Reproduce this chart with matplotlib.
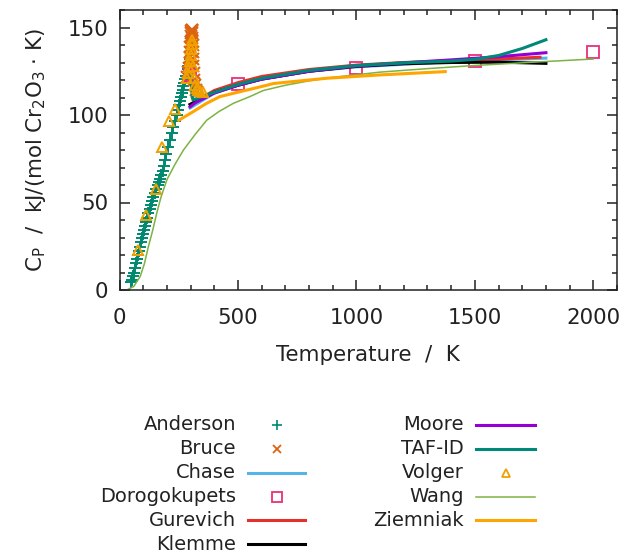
import numpy as np
import matplotlib
matplotlib.use('Agg')
import matplotlib.pyplot as plt
from matplotlib.lines import Line2D
from matplotlib.ticker import MultipleLocator

plt.rcParams['font.family'] = 'DejaVu Sans'
plt.rcParams['mathtext.default'] = 'regular'

# ---- measured data (T in K, Cp in J/(mol K)) ----
anderson_T = [48, 51, 55, 60, 64, 68, 73, 78, 82, 87, 91, 95, 99, 103, 108, 112, 117, 122,
              127, 132, 137, 143, 149, 155, 161, 166, 171, 176, 182, 187, 192, 198, 205, 212,
              220, 227, 234, 241, 248, 252, 256, 260, 263, 267, 270, 274, 277, 281, 284,
              288, 291, 294, 298]
anderson_cp = [4.5, 5.7, 7.8, 10.0, 12.6, 15.2, 17.6, 20.0, 22.4, 24.8, 27.2, 29.5, 31.9,
               34.3, 36.7, 39.0, 41.4, 43.8, 46.2, 48.5, 50.9, 53.3, 55.6, 58.0, 60.0, 61.8,
               63.5, 65.5, 68.0, 71.0, 74.3, 78.0, 82.0, 85.8, 89.5, 93.0, 96.5, 99.8, 103.0,
               105.5, 108.0, 110.2, 112.4, 114.5, 116.5, 118.5, 120.5, 122.5, 124.5, 126.3,
               128.0, 130.0, 132.0]

bruce_T = [285, 290, 294, 296, 297, 298, 299, 300, 301, 302, 303, 304, 305, 306, 307, 308,
           309, 310, 311, 312, 313, 315, 318, 322, 327]
bruce_cp = [122.0, 124.5, 127.0, 130.0, 133.0, 136.0, 139.0, 142.0, 145.0, 147.0, 148.0,
            148.5, 148.5, 148.0, 147.0, 144.0, 140.0, 136.0, 132.0, 128.0, 124.0, 120.0,
            117.0, 114.5, 113.0]

chase_T = [298, 400, 500, 600, 800, 1000, 1200, 1400, 1600, 1800]
chase_cp = [104.0, 112.5, 117.0, 120.5, 125.0, 127.5, 129.0, 130.5, 131.5, 132.5]

dorogokupets_T = [298, 500, 1000, 1500, 2000]
dorogokupets_cp = [123.0, 118.0, 126.7, 131.0, 136.2]

gurevich_T = [298, 400, 500, 600, 800, 1000, 1200, 1400, 1600, 1775]
gurevich_cp = [106.0, 114.0, 118.5, 122.0, 126.0, 128.5, 130.0, 131.0, 132.0, 133.0]

klemme_T = [298, 400, 500, 600, 800, 1000, 1200, 1400, 1600, 1800]
klemme_cp = [106.0, 113.0, 117.0, 120.5, 125.0, 127.8, 129.3, 130.0, 130.2, 129.5]

moore_T = [298, 320, 400, 500, 600, 800, 1000, 1200, 1400, 1600, 1800]
moore_cp = [104.7, 107.0, 112.5, 117.0, 120.5, 125.0, 128.0, 129.8, 131.5, 133.3, 135.6]

tafid_T = [300, 306, 310, 350, 400, 500, 600, 800, 1000, 1200, 1400, 1500, 1600, 1700, 1800]
tafid_cp = [122.0, 112.0, 108.6, 110.5, 113.0, 117.5, 121.0, 125.5, 128.3, 129.8, 130.8,
            131.8, 134.0, 138.0, 143.0]

volger_T = [79, 112, 154, 178, 210, 234, 286, 291, 295, 298, 300, 302, 304, 306, 309, 313,
            319, 326, 333, 340, 352]
volger_cp = [22.9, 42.9, 58.0, 81.5, 96.6, 103.2, 121.0, 124.0, 127.5, 131.0, 134.5, 137.5,
             140.5, 143.0, 128.0, 121.0, 117.0, 115.5, 114.5, 114.0, 113.0]

wang_T = [30, 60, 87, 105, 122, 140, 157, 175, 200, 235, 270, 320, 368, 420, 481, 550, 607,
          700, 800, 900, 1000, 1100, 1300, 1500, 1750, 2000]
wang_cp = [0.0, 2.0, 7.6, 15.0, 24.8, 34.0, 43.8, 53.0, 63.0, 72.0, 80.0, 89.0, 97.0, 102.0,
           106.7, 110.5, 114.0, 117.0, 119.5, 121.5, 123.0, 124.5, 126.5, 128.3, 130.2, 132.0]

ziemniak_T = [250, 300, 368, 424, 481, 622, 650, 875, 1100, 1375]
ziemniak_cp = [97.0, 101.0, 106.7, 110.5, 112.4, 117.0, 118.0, 121.0, 122.9, 124.8]

# ---- styles ----
c_anderson = '#00896f'
c_bruce = '#dc6410'
c_chase = '#56b4e9'
c_doro = '#e8307a'
c_gurevich = '#e8302a'
c_klemme = '#000000'
c_moore = '#9400d3'
c_tafid = '#00897b'
c_volger = '#f0a000'
c_wang = '#7cb342'
c_ziemniak = '#ffa500'
c_text = '#222222'
fs_axes = 15.4
fs_key = 14

fig = plt.figure(figsize=(6.38, 5.53), dpi=100)
ax = fig.add_axes([119.5 / 638, 1 - 290 / 553, (617 - 119.5) / 638, 280 / 553])

ax.plot(anderson_T, anderson_cp, ls='none', marker='+', ms=9, mew=1.4, color=c_anderson)
ax.plot(bruce_T, bruce_cp, ls='none', marker='x', ms=8.5, mew=1.5, color=c_bruce)
ax.plot(chase_T, chase_cp, color=c_chase, lw=2.2)
ax.plot(dorogokupets_T, dorogokupets_cp, ls='none', marker='s', ms=8, mfc='none',
        mew=1.3, color=c_doro)
ax.plot(gurevich_T, gurevich_cp, color=c_gurevich, lw=2.2)
ax.plot(klemme_T, klemme_cp, color=c_klemme, lw=2.2)
ax.plot(moore_T, moore_cp, color=c_moore, lw=2.2)
ax.plot(tafid_T, tafid_cp, color=c_tafid, lw=2.2)
ax.plot(volger_T, volger_cp, ls='none', marker='^', ms=7.5, mfc='none', mew=1.4,
        color=c_volger)
ax.plot(wang_T, wang_cp, color=c_wang, lw=1.1)
ax.plot(ziemniak_T, ziemniak_cp, color=c_ziemniak, lw=2.2)

ax.set_xlim(0, 2100)
ax.set_ylim(0, 160)
ax.xaxis.set_major_locator(MultipleLocator(500))
ax.xaxis.set_minor_locator(MultipleLocator(100))
ax.yaxis.set_major_locator(MultipleLocator(50))
ax.yaxis.set_minor_locator(MultipleLocator(10))
ax.tick_params(which='both', direction='in', top=True, right=True, width=1.1,
               labelsize=fs_axes, colors=c_text)
ax.tick_params(which='major', length=7)
ax.tick_params(which='minor', length=3.6)
ax.tick_params(axis='x', which='major', pad=13)
ax.tick_params(axis='y', which='major', pad=8)
for sp in ax.spines.values():
    sp.set_linewidth(1.1)
    sp.set_color(c_text)

ax.set_xlabel('Temperature  /  K', fontsize=fs_axes, labelpad=12, color=c_text)
ax.set_ylabel(r'C$_\mathregular{P}$  /  kJ/(mol Cr$_\mathregular{2}$O$_\mathregular{3}$ $\cdot$ K)',
              fontsize=fs_axes, labelpad=14, color=c_text)

# ---- legend in pixel coordinates below the plot ----
lax = fig.add_axes([0, 0, 1, 1], zorder=-1)
lax.set_xlim(0, 638)
lax.set_ylim(553, 0)
lax.axis('off')

entries = [
    ('Anderson', dict(ls='none', marker='+', ms=7, mew=1.2, color=c_anderson)),
    ('Bruce', dict(ls='none', marker='x', ms=6, mew=1.3, color=c_bruce)),
    ('Chase', dict(color=c_chase, lw=2.2)),
    ('Dorogokupets', dict(ls='none', marker='s', ms=7, mfc='none', mew=1.3, color=c_doro)),
    ('Gurevich', dict(color=c_gurevich, lw=2.2)),
    ('Klemme', dict(color=c_klemme, lw=2.2)),
    ('Moore', dict(color=c_moore, lw=2.2)),
    ('TAF-ID', dict(color=c_tafid, lw=2.2)),
    ('Volger', dict(ls='none', marker='^', ms=6, mfc='none', mew=1.3, color=c_volger)),
    ('Wang', dict(color=c_wang, lw=1.1)),
    ('Ziemniak', dict(color=c_ziemniak, lw=2.2)),
]
row_y = [425, 449, 473, 497, 520, 544]
cols = [(236, 248, 305), (464, 476, 535)]
for i, (name, style) in enumerate(entries):
    col = 0 if i < 6 else 1
    y = row_y[i if i < 6 else i - 6]
    tx, x0, x1 = cols[col]
    lax.text(tx, y, name, ha='right', va='center', fontsize=fs_key, color=c_text)
    if style.get('ls') == 'none':
        lax.add_line(Line2D([(x0 + x1) / 2], [y], **style))
    else:
        lax.add_line(Line2D([x0, x1], [y, y], **style))

fig.savefig('out.png', dpi=100)
